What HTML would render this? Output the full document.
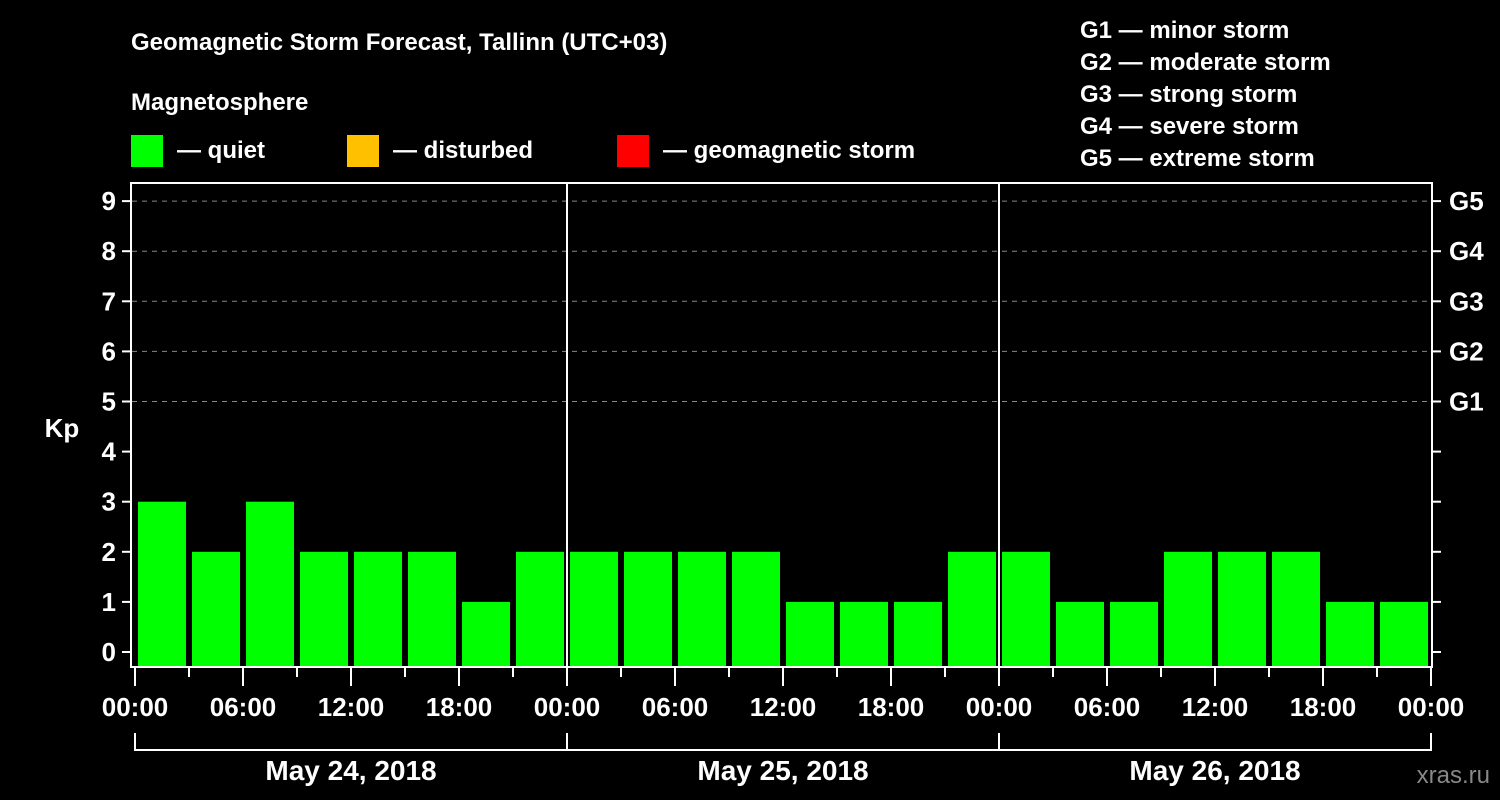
<!DOCTYPE html>
<html><head><meta charset="utf-8"><style>
html,body{margin:0;padding:0;background:#000;}
svg{display:block;font-family:"Liberation Sans",Arial,sans-serif;font-weight:bold;}
</style></head><body>
<svg id="chart" width="1500" height="800" viewBox="0 0 1500 800">
<rect width="1500" height="800" fill="#000"/>
<text x="131" y="50" fill="#fff" font-size="24">Geomagnetic Storm Forecast, Tallinn (UTC+03)</text>
<text x="131" y="110" fill="#fff" font-size="24">Magnetosphere</text>
<g>
<rect x="131" y="135" width="32" height="32" fill="#00ff00"/>
<text x="177" y="158" fill="#fff" font-size="24">— quiet</text>
<rect x="347" y="135" width="32" height="32" fill="#ffc000"/>
<text x="393" y="158" fill="#fff" font-size="24">— disturbed</text>
<rect x="617" y="135" width="32" height="32" fill="#ff0000"/>
<text x="663" y="158" fill="#fff" font-size="24">— geomagnetic storm</text>
</g>
<g fill="#fff" font-size="24">
<text x="1080" y="38">G1 — minor storm</text>
<text x="1080" y="70">G2 — moderate storm</text>
<text x="1080" y="102">G3 — strong storm</text>
<text x="1080" y="134">G4 — severe storm</text>
<text x="1080" y="166">G5 — extreme storm</text>
</g>
<text x="62" y="437" fill="#fff" font-size="26" text-anchor="middle">Kp</text>
<text x="1490" y="783" fill="#888" font-size="24" text-anchor="end" font-weight="normal">xras.ru</text>
<g id="grid"></g>
<g id="bars"></g>
<g id="axes"></g>
</svg>
<script>
const days = ["May 24, 2018","May 25, 2018","May 26, 2018"];
const kpDay1 = [3,2,3,2,2,2,1,2];
const kpDay2 = [2,2,2,2,1,1,1,2];
const kpDay3 = [2,1,1,2,2,2,1,1];
const yTicks = [0,1,2,3,4,5,6,7,8,9];
const gLabels = ["G1","G2","G3","G4","G5"];
const gLevels = [5,6,7,8,9];
const hourLabels = ["00:00","06:00","12:00","18:00"];

const NS="http://www.w3.org/2000/svg";
const X0=135, HOUR=18, Y0=652, KP=50.1, TOP=183, BOT=667, RIGHT=1432;
const xs = h => X0 + h*HOUR;
const ys = v => Y0 - v*KP;
function mk(tag, attrs, parent, text){const e=document.createElementNS(NS,tag);for(const k in attrs)e.setAttribute(k,attrs[k]);if(text!==undefined)e.textContent=text;document.getElementById(parent).appendChild(e);return e;}

// grid lines
gLevels.forEach(v=>{
  const l=mk('line',{x1:132,x2:RIGHT,y1:ys(v),y2:ys(v),stroke:'#888','stroke-dasharray':'5,5','stroke-width':1},'grid');
  
  
});

// bars
const all=[kpDay1,kpDay2,kpDay3];
all.forEach((arr,d)=>arr.forEach((v,i)=>{
  const h=d*24+i*3;
  const col = v>=5?'#ff0000':(v>=4?'#ffc000':'#00ff00');
  const r=mk('rect',{x:xs(h)+3,y:ys(v),width:48,height:BOT-ys(v),fill:col},'bars');
  
  
}));

// frame
const f=mk('rect',{x:131,y:TOP,width:RIGHT-131,height:BOT-TOP,fill:'none',stroke:'#fff','stroke-width':2},'axes');


[1,2].forEach(d=>{
  const l=mk('line',{x1:xs(d*24),x2:xs(d*24),y1:TOP,y2:BOT,stroke:'#fff','stroke-width':2},'axes');
  
  
});
// y ticks
yTicks.forEach(v=>{
  const t=mk('line',{x1:122,x2:131,y1:ys(v),y2:ys(v),stroke:'#fff','stroke-width':2},'axes');
  
  
  const t2=mk('line',{x1:RIGHT,x2:RIGHT+9,y1:ys(v),y2:ys(v),stroke:'#fff','stroke-width':2},'axes');
  
  
  const lb=mk('text',{x:116,y:ys(v)+9,fill:'#fff','font-size':26,'text-anchor':'end'},'axes',String(v));
  
  
});
gLabels.forEach((g,i)=>{
  const lb=mk('text',{x:1449,y:ys(gLevels[i])+9,fill:'#fff','font-size':26},'axes',g);
  
  
});
// x ticks
for(let h=0;h<=72;h+=3){
  const major=h%6===0;
  const t=mk('line',{x1:xs(h),x2:xs(h),y1:BOT,y2:major?686:677,stroke:'#fff','stroke-width':2},'axes');
  
  
}
for(let h=0;h<=72;h+=6){
  const lb=mk('text',{x:xs(h),y:716,fill:'#fff','font-size':26,'text-anchor':'middle'},'axes',hourLabels[(h/6)%4]);
  
  
}
// date brackets
days.forEach((d,i)=>{
  const a=xs(i*24), b=xs(i*24+24);
  const p=mk('path',{d:`M${a},733V750H${b}`+(i===2?'V733':''),fill:'none',stroke:'#fff','stroke-width':2},'axes');
  
  
  const lb=mk('text',{x:(a+b)/2,y:780,fill:'#fff','font-size':28,'text-anchor':'middle'},'axes',d);
  
  
});
</script>
</body></html>
